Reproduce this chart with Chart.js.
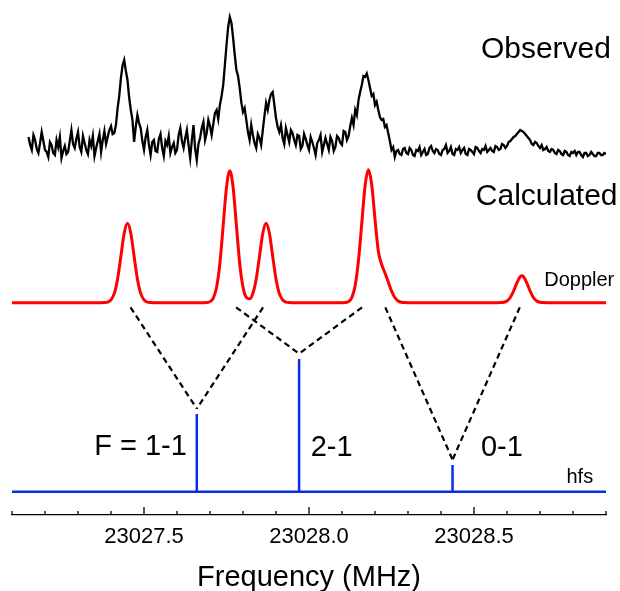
<!DOCTYPE html>
<html>
<head>
<meta charset="utf-8">
<script src="https://cdn.jsdelivr.net/npm/chart.js@4.4.1/dist/chart.umd.min.js"></script>
<style>
    html, body { margin: 0; padding: 0; background: #fff; }
    #wrap { width: 620px; height: 591px; position: relative; }
</style>
</head>
<body>
<div id="wrap"><canvas id="spectrum"></canvas></div>
<script>
// frequency axis (MHz)
const freqMin = 23027.1;
const freqMax = 23028.9;
const tickStep = 0.1;

// observed spectrum, one sample every 0.005 MHz
const obsStart = 23027.15;
const obsStep = 0.005;
const obsInt = [
    0.121, 0.060, 0.023, 0.135, 0.098, 0.030, 0.000, 0.075, 0.158, 0.090,
    0.023, 0.008, -0.030, 0.083, 0.060, 0.000, -0.015, 0.098, 0.045, 0.120,
    -0.038, 0.015, 0.053, -0.008, 0.008, 0.090, 0.173, 0.068, 0.038, 0.106,
    0.158, 0.045, 0.008, 0.128, 0.075, 0.023, -0.008, 0.098, 0.053, 0.128,
    -0.023, 0.038, 0.090, 0.143, 0.008, 0.098, 0.166, 0.068, 0.121, 0.173,
    0.203, 0.143, 0.151, 0.211, 0.339, 0.430, 0.565, 0.660, 0.701, 0.620,
    0.550, 0.420, 0.324, 0.250, 0.083, 0.196, 0.286, 0.226, 0.188, 0.090,
    0.023, 0.120, 0.173, 0.060, -0.015, 0.083, 0.098, 0.015, 0.008, 0.106,
    0.143, 0.038, -0.023, 0.090, 0.060, 0.128, 0.000, 0.045, 0.075, 0.000,
    0.023, 0.136, 0.188, 0.090, 0.038, 0.113, 0.173, 0.060, -0.038, 0.098,
    0.211, 0.030, -0.053, 0.068, 0.113, 0.188, 0.234, 0.098, 0.151, 0.249,
    0.203, 0.136, 0.219, 0.301, 0.324, 0.256, 0.362, 0.430, 0.512, 0.660,
    0.814, 0.950, 1.025, 0.980, 0.867, 0.740, 0.626, 0.580, 0.490, 0.380,
    0.309, 0.339, 0.249, 0.158, 0.098, 0.211, 0.136, 0.075, 0.038, 0.143,
    0.113, 0.060, 0.173, 0.280, 0.377, 0.324, 0.399, 0.445, 0.460, 0.362,
    0.264, 0.196, 0.158, 0.211, 0.113, 0.068, 0.188, 0.136, 0.083, 0.173,
    0.151, 0.098, 0.060, 0.136, 0.128, 0.030, 0.053, 0.143, 0.106, 0.060,
    0.023, 0.121, 0.083, 0.038, -0.015, 0.075, 0.098, 0.136, 0.008, 0.060,
    0.113, 0.068, 0.023, 0.121, 0.090, 0.015, 0.045, 0.128, 0.113, 0.075,
    0.060, 0.166, 0.158, 0.098, 0.128, 0.203, 0.264, 0.211, 0.324, 0.286,
    0.399, 0.460, 0.512, 0.580, 0.573, 0.600, 0.550, 0.490, 0.430, 0.445,
    0.362, 0.386, 0.324, 0.271, 0.249, 0.256, 0.196, 0.211, 0.151, 0.090,
    0.023, 0.045, -0.030, 0.015, 0.023, -0.008, -0.015, 0.030, 0.038, 0.000,
    -0.008, 0.038, 0.023, -0.015, -0.023, 0.023, 0.015, 0.045, -0.015, 0.008,
    0.030, -0.015, -0.008, 0.038, 0.053, 0.015, 0.000, 0.030, 0.023, -0.008,
    -0.015, 0.023, 0.030, 0.060, 0.000, 0.015, 0.045, -0.008, -0.015, 0.030,
    0.023, 0.045, 0.000, 0.023, 0.038, -0.008, -0.015, 0.030, 0.023, 0.008,
    -0.008, 0.045, 0.038, 0.015, 0.000, 0.030, 0.023, 0.053, 0.008, 0.023,
    0.038, 0.015, 0.008, 0.053, 0.045, 0.023, 0.030, 0.068, 0.060, 0.038,
    0.053, 0.083, 0.090, 0.106, 0.121, 0.128, 0.143, 0.158, 0.173, 0.166,
    0.158, 0.143, 0.128, 0.113, 0.098, 0.068, 0.060, 0.083, 0.075, 0.053,
    0.038, 0.060, 0.023, 0.030, 0.045, 0.015, 0.008, 0.030, 0.023, 0.000,
    -0.008, 0.023, 0.015, -0.008, -0.015, 0.015, 0.008, -0.015, -0.023, 0.008,
    0.000, 0.015, -0.015, 0.008, 0.008, -0.015, -0.030, 0.000, 0.000, -0.023,
    -0.015, 0.008, -0.008, -0.023, -0.023, 0.000, 0.000, -0.015, -0.015, 0.000,
    -0.008
];

// calculated profile (each hfs line split into a Doppler pair)
const calcFreq = [
    23027.10, 23027.37, 23027.38, 23027.39, 23027.40, 23027.41, 23027.42, 23027.43, 23027.44,
    23027.45, 23027.46, 23027.47, 23027.48, 23027.49, 23027.50, 23027.51, 23027.52, 23027.53,
    23027.68, 23027.69, 23027.70, 23027.71, 23027.72, 23027.73, 23027.74, 23027.75, 23027.76,
    23027.77, 23027.78, 23027.79, 23027.80, 23027.81, 23027.82, 23027.83, 23027.84, 23027.85,
    23027.86, 23027.87, 23027.88, 23027.89, 23027.90, 23027.91, 23027.92, 23027.93, 23027.94,
    23027.95,
    23028.10, 23028.11, 23028.12, 23028.13, 23028.14, 23028.15, 23028.16, 23028.17, 23028.18,
    23028.19, 23028.20, 23028.21, 23028.22, 23028.23, 23028.24, 23028.25, 23028.26, 23028.27,
    23028.28, 23028.29, 23028.30,
    23028.57, 23028.58, 23028.59, 23028.60, 23028.61, 23028.62, 23028.63, 23028.64, 23028.645,
    23028.65, 23028.66, 23028.67, 23028.68, 23028.69, 23028.70, 23028.71, 23028.72, 23028.90
];
const calcInt = [
    0, 0, 0.001, 0.005, 0.021, 0.070, 0.179, 0.350, 0.523,
    0.598, 0.523, 0.350, 0.179, 0.070, 0.021, 0.005, 0.001, 0,
    0, 0.001, 0.008, 0.035, 0.116, 0.297, 0.582, 0.870, 0.995,
    0.870, 0.582, 0.297, 0.117, 0.040, 0.029, 0.071, 0.179, 0.350,
    0.523, 0.598, 0.523, 0.350, 0.179, 0.070, 0.021, 0.005, 0.001,
    0,
    0, 0.001, 0.008, 0.040, 0.130, 0.320, 0.600, 0.880, 1.001,
    0.890, 0.630, 0.390, 0.290, 0.225, 0.158, 0.089, 0.039, 0.013,
    0.003, 0.001, 0,
    0, 0.001, 0.003, 0.013, 0.039, 0.088, 0.150, 0.196, 0.203,
    0.196, 0.150, 0.088, 0.039, 0.013, 0.003, 0.001, 0, 0
];

// hyperfine components
const hfsLabels = ['F = 1-1', '2-1', '0-1'];
const hfsFreq = [23027.66, 23027.97, 23028.435];
const hfsInt = [0.585, 1.0, 0.201];
const dopplerSplit = 0.21;

// vertical offsets of the stacked traces
const obsOffset = 2.552;
const calcOffset = 1.424;
const hfsOffset = 0;

const FONT = "'Liberation Sans', Arial, Helvetica, sans-serif";

// text placed in data units
const annotations = [
    { text: 'Observed',   x: 23028.915, y: 3.266, size: 30, align: 'right' },
    { text: 'Calculated', x: 23028.935, y: 2.160, size: 30, align: 'right' },
    { text: 'Doppler',    x: 23028.925, y: 1.550, size: 20, align: 'right' },
    { text: 'hfs',        x: 23028.861, y: 0.065, size: 20, align: 'right' },
    { text: hfsLabels[0], x: 23027.630, y: 0.276, size: 29, align: 'right' },
    { text: hfsLabels[1], x: 23028.005, y: 0.269, size: 29, align: 'left' },
    { text: hfsLabels[2], x: 23028.521, y: 0.269, size: 29, align: 'left' }
];

function isMajor(v) {
    return Math.abs(v * 2 - Math.round(v * 2)) < 1e-4;
}

// stick spectrum: flat baseline with vertical lines
function buildSticks() {
    const pts = [{ x: freqMin, y: hfsOffset }];
    hfsFreq.forEach((f, i) => {
        pts.push({ x: f, y: hfsOffset });
        pts.push({ x: f, y: hfsOffset + hfsInt[i] });
        pts.push({ x: f, y: hfsOffset });
    });
    pts.push({ x: freqMax, y: hfsOffset });
    return pts;
}

// dashed guides from each Doppler peak down to its hfs line
function buildGuides() {
    const sets = [];
    hfsFreq.forEach((f, i) => {
        const apex = { x: f, y: hfsOffset + hfsInt[i] + 0.04 };
        [-1, 1].forEach(side => {
            const peak = { x: f + side * dopplerSplit, y: calcOffset };
            const s = 0.035 / (peak.y - apex.y);
            const start = { x: peak.x + (apex.x - peak.x) * s, y: peak.y - 0.035 };
            sets.push({
                data: [start, apex],
                borderColor: '#000',
                borderWidth: 2.2,
                borderDash: [6, 4],
                pointRadius: 0,
                tension: 0
            });
        });
    });
    return sets;
}

const decorations = {
    id: 'decorations',
    afterDraw(chart) {
        const { ctx, scales: { x, y } } = chart;
        const axisY = x.top;
        ctx.save();
        ctx.strokeStyle = '#000';
        ctx.lineWidth = 1.3;
        x.ticks.forEach(t => {
            const px = x.getPixelForValue(t.value);
            ctx.beginPath();
            ctx.moveTo(px, axisY);
            ctx.lineTo(px, axisY - (isMajor(t.value) ? 8 : 4));
            ctx.stroke();
        });
        ctx.fillStyle = '#000';
        ctx.textBaseline = 'alphabetic';
        annotations.forEach(a => {
            ctx.font = `${a.size}px ${FONT}`;
            ctx.textAlign = a.align;
            ctx.fillText(a.text, x.getPixelForValue(a.x), y.getPixelForValue(a.y));
        });
        ctx.restore();
    }
};

const obsData = obsInt.map((v, i) => ({ x: obsStart + i * obsStep, y: obsOffset + v }));
const calcData = calcFreq.map((f, i) => ({ x: f, y: calcOffset + calcInt[i] }));

new Chart(document.getElementById('spectrum'), {
    type: 'line',
    data: {
        datasets: [
            {
                data: obsData,
                borderColor: '#000',
                borderWidth: 2.3,
                pointRadius: 0,
                tension: 0
            },
            {
                data: calcData,
                borderColor: '#ff0000',
                borderWidth: 3,
                pointRadius: 0,
                cubicInterpolationMode: 'monotone'
            },
            {
                data: buildSticks(),
                borderColor: '#0a2ee0',
                borderWidth: 2.5,
                pointRadius: 0,
                tension: 0
            },
            ...buildGuides()
        ]
    },
    options: {
        responsive: true,
        maintainAspectRatio: false,
        animation: false,
        layout: { padding: { left: 12, right: 14, top: 0, bottom: 0 } },
        plugins: {
            legend: { display: false },
            tooltip: { enabled: false }
        },
        scales: {
            x: {
                type: 'linear',
                min: freqMin,
                max: freqMax,
                afterFit: (scale) => { scale.height = 76; },
                grid: { display: false, drawTicks: false },
                border: { display: true, color: '#000', width: 1.3 },
                ticks: {
                    stepSize: tickStep,
                    autoSkip: false,
                    maxRotation: 0,
                    padding: 9,
                    color: '#000',
                    font: { family: FONT, size: 22 },
                    callback: (v) => isMajor(v) ? Number(v).toFixed(1) : ''
                },
                title: {
                    display: true,
                    text: 'Frequency (MHz)',
                    color: '#000',
                    font: { family: FONT, size: 29, lineHeight: 1 },
                    padding: { top: 0, bottom: -1 }
                }
            },
            y: {
                type: 'linear',
                display: false,
                min: -0.176,
                max: 3.705
            }
        }
    },
    plugins: [decorations]
});
</script>
</body>
</html>
